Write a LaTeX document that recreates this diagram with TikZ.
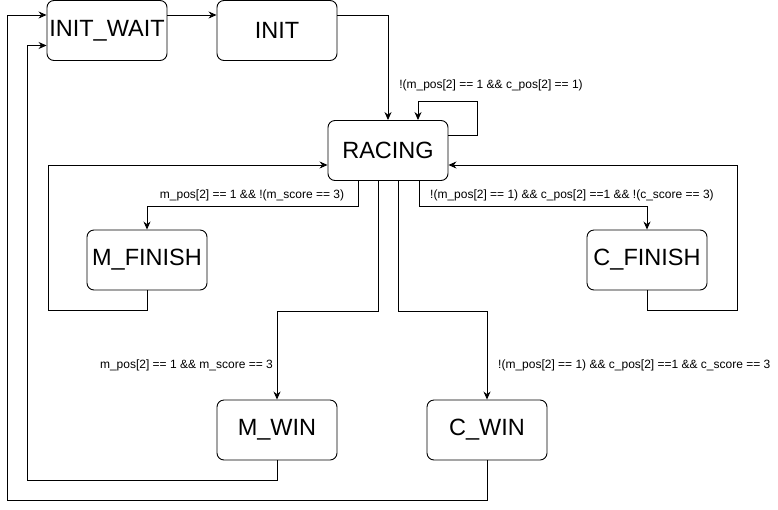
\documentclass[tikz,border=0pt]{standalone}
\usepackage{fontspec}
\setmainfont{Liberation Sans}
\usepackage{tikz}
\usetikzlibrary{arrows.meta,calc,positioning}
\tikzset{
  state/.style={draw,rounded corners=7pt,minimum width=120pt,minimum height=60pt,inner sep=0,line width=0.9pt,font=\fontsize{23.5}{27}\selectfont},
  edge/.style={line width=0.9pt,-{Stealth[length=8pt,width=7pt]}},
  cond/.style={font=\fontsize{12}{14}\selectfont,inner sep=1pt,fill=white}
}

\begin{document}
\begin{tikzpicture}[x=1pt,y=-1pt]
      \useasboundingbox (0,0) rectangle (778,509);
      % States
      \node[state] (initwait) at (107,30.5) {INIT\_WAIT};
      \node[state] (init) at (277,30.5) {INIT};
      \node[state] (racing) at (388,150.5) {RACING};
      \node[state] (mfinish) at (147,260) {M\_FINISH};
      \node[state] (cfinish) at (647,260) {C\_FINISH};
      \node[state] (mwin) at (277,430) {M\_WIN};
      \node[state] (cwin) at (487,430) {C\_WIN};
      % Start
      \draw[edge] ([yshift=15.5pt]initwait.east) -- ([yshift=15.5pt]init.west);
      \draw[edge] ([yshift=15.5pt]init.east) -| (racing.north);
      % Self loop
      \draw[edge] ([yshift=15.5pt]racing.east) -- ++(29,0) -- ++(0,-34) -| ([xshift=30pt]racing.north);
      \node[cond] (lloop) at (491,85) {!(m\_pos[2] == 1 \&\& c\_pos[2] == 1)};
      % Finish
      \draw[edge] ([xshift=-30pt]racing.south) -- ++(0,25) -| (mfinish.north);
      \node[cond] (lmfin) at (252,195) {m\_pos[2] == 1 \&\& !(m\_score == 3)};
      \draw[edge] ([xshift=31pt]racing.south) -- ++(0,25) -| (cfinish.north);
      \node[cond,anchor=west] (lcfin) at (429,195) {!(m\_pos[2] == 1) \&\& c\_pos[2] ==1 \&\& !(c\_score == 3)};
      \draw[edge] (mfinish.south) -- ++(0,20) -- ++(-99,0) |- ([yshift=-14.5pt]racing.west);
      \draw[edge] (cfinish.south) -- ++(0,20) -- ++(90,0) |- ([yshift=-14.5pt]racing.east);
      % Win
      \draw[edge] ([xshift=-10pt]racing.south) -- ++(0,130) -| (mwin.north);
      \node[cond,anchor=east] (lmwin) at (274,365) {m\_pos[2] == 1 \&\& m\_score == 3};
      \draw[edge] ([xshift=10pt]racing.south) -- ++(0,130) -| (cwin.north);
      \node[cond,anchor=west] (lcwin) at (497,365) {!(m\_pos[2] == 1) \&\& c\_pos[2] ==1 \&\& c\_score == 3};
      % Back to wait
      \draw[edge] (mwin.south) -- ++(0,20) -- ++(-250,0) |- ([yshift=-15pt]initwait.west);
      \draw[edge] (cwin.south) -- ++(0,40) -- ++(-480,0) |- ([yshift=15.5pt]initwait.west);
\end{tikzpicture}
\end{document}
